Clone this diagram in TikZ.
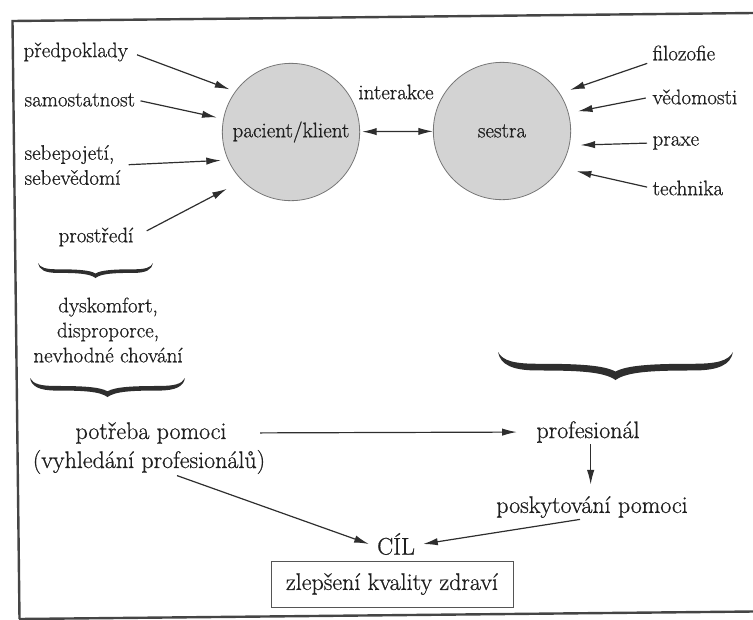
\documentclass[tikz,border=0pt]{standalone}
\usepackage{fontspec}
\setmainfont{Latin Modern Roman}[FakeBold=0.7]
\usetikzlibrary{arrows.meta}
\definecolor{ink}{HTML}{1F1F1F}
\definecolor{lineink}{HTML}{2E2E2E}
\definecolor{disk}{HTML}{D3D3D3}
\definecolor{diskline}{HTML}{777777}
\definecolor{framecol}{HTML}{454545}
\definecolor{boxline}{HTML}{555555}
\newcommand{\ubrace}[4]{%
  \begin{scope}[shift={(#1,#2)}, xscale=#3, yscale=#4]
    \fill[lineink] (0,0) .. controls (0.02,0.32) and (0.07,0.42) .. (0.17,0.42)
      .. controls (0.33,0.42) and (0.45,0.46) .. (0.5,0.7)
      .. controls (0.55,0.46) and (0.67,0.42) .. (0.83,0.42)
      .. controls (0.93,0.42) and (0.98,0.32) .. (1,0)
      .. controls (0.99,0.45) and (0.94,0.66) .. (0.83,0.66)
      .. controls (0.66,0.66) and (0.55,0.7) .. (0.5,1)
      .. controls (0.45,0.7) and (0.34,0.66) .. (0.17,0.66)
      .. controls (0.06,0.66) and (0.01,0.45) .. (0,0) -- cycle;
  \end{scope}}
\tikzset{
  lbl/.style={font=\fontsize{15.75}{18.75}\selectfont, text=ink, inner sep=1pt},
  big/.style={font=\fontsize{18}{21.75}\selectfont, text=ink, inner sep=1pt},
  disc/.style={circle, fill=disk, draw=diskline, line width=0.6pt, minimum size=103pt, inner sep=0pt,
    font=\fontsize{15.75}{18.75}\selectfont, text=ink},
  arr/.style={draw=lineink, line width=0.9pt, -{Latex[length=11pt,width=5.5pt]}},
  darr/.style={draw=lineink, line width=0.9pt, {Latex[length=11pt,width=5.5pt]}-{Latex[length=11pt,width=5.5pt]}},
  framestyle/.style={draw=framecol, line width=1.8pt}
}
\begin{document}
\begin{tikzpicture}[x=0.75pt, y=-0.75pt]
\useasboundingbox (0,0) rectangle (753,619);
% frame
\draw[framestyle] (753,13) -- (12.5,21) -- (19.5,619);
\draw[framestyle] (19,619) -- (753,611.5);

% circles
\node[disc] (pk) at (291,132) {pacient/klient};
\node[disc] (se) at (502,131) {sestra};
\node[lbl] (inter) at (396,92) {interakce};

% left labels
\node[lbl, anchor=west] (pred) at (22,52) {předpoklady};
\node[lbl, anchor=west] (samo) at (23,100) {samostatnost};
\node[lbl, anchor=west, align=left] (sebe) at (23,165) {sebepojetí,\\sebevědomí};
\node[lbl] (pros) at (96,237) {prostředí};

% right labels
\node[lbl, anchor=west] (filo) at (651,53) {filozofie};
\node[lbl, anchor=west] (vedo) at (651,97) {vědomosti};
\node[lbl, anchor=west] (prax) at (651,143) {praxe};
\node[lbl, anchor=west] (tech) at (651,188) {technika};

% arrows into pacient
\draw[arr, shorten <=6pt, shorten >=4.5pt] (pred.east) -- (pk.144.8);
\draw[arr, shorten <=3pt, shorten >=5pt] (samo.east) -- (pk.169.3);
\draw[arr, shorten <=5pt, shorten >=5.2pt] (sebe.east) -- (pk.204.2);
\draw[arr, shorten <=10pt, shorten >=13pt] (pros.east) -- (pk.225);
% arrows into sestra
\draw[arr, shorten <=3pt, shorten >=8pt] (filo.south west) -- (se.33.7);
\draw[arr, shorten <=4pt, shorten >=7pt] (vedo.west) -- (se.15.6);
\draw[arr, shorten <=3pt, shorten >=8.2pt] (prax.west) -- (se.348.4);
\draw[arr, shorten <=3pt, shorten >=12.4pt] (tech.west) -- (se.328.9);
% interaction
\draw[darr, shorten <=1.5pt] (pk) -- (se);

% braces and middle text
\ubrace{38}{263}{115}{15}
\node[lbl, align=center] (dys) at (108,330) {dyskomfort,\\disproporce,\\nevhodné chování};
\ubrace{30}{378}{155}{19}
\ubrace{498}{352}{235}{28}

% bottom part
\node[big] (pot) at (151,433) {potřeba pomoci};
\node[big] (vyh) at (149,462) {(vyhledání profesionálů)};
\node[big] (prof) at (588,432) {profesionál};
\node[big] (posk) at (592,507) {poskytování pomoci};
\node[big, inner xsep=6pt] (cil) at (396,544) {CÍL};
\node[big, draw=boxline, line width=0.6pt, minimum width=181.5pt, minimum height=34.5pt] (zl) at (392,584) {zlepšení kvality zdraví};

\draw[arr, shorten <=24pt, shorten >=13.5pt] (pot.east) -- (prof.west);
\draw[arr, shorten >=7.5pt] ([xshift=2pt]prof.south) -- ([xshift=2pt]prof.south |- posk.north);
\draw[arr] ([xshift=-9pt]posk.south) -- (cil.east);
\draw[arr] ([xshift=21pt]vyh.south) -- (cil.west);
\end{tikzpicture}
\end{document}
